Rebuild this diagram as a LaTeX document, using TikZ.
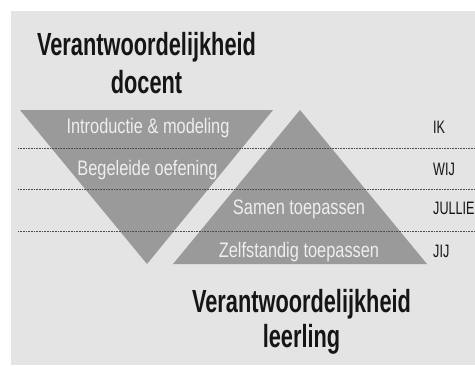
\documentclass[tikz,border=0pt]{standalone}
\usepackage{fontspec}
\newfontfamily\titlefont[FakeStretch=0.68]{Liberation Sans}
\newfontfamily\labfont[FakeStretch=0.78]{Liberation Sans}
\newfontfamily\sidefont[FakeStretch=0.70]{Liberation Sans}
\definecolor{bg}{HTML}{E4E4E4}
\definecolor{tri}{HTML}{9A9A9A}
\definecolor{labtxt}{HTML}{EEEEEE}
\definecolor{dark}{HTML}{151515}
\tikzset{
  title/.style={anchor=base, inner sep=0pt, text=dark, font=\titlefont\bfseries\fontsize{32}{34}\selectfont},
  trilabel/.style={anchor=base, inner sep=0pt, text=labtxt, font=\labfont\fontsize{21}{23}\selectfont},
  sidelabel/.style={anchor=base west, inner sep=0pt, text=dark, font=\sidefont\fontsize{18}{20}\selectfont},
  rowline/.style={draw=black!70, line width=0.6pt, dash pattern=on 0.8pt off 0.8pt},
  tribox/.style={fill=tri, draw=none}
}
\begin{document}
\begin{tikzpicture}[x=1pt, y=-1pt]
\useasboundingbox (0,0) rectangle (475,365);
\fill[white] (0,0) rectangle (475,365);
\fill[bg] (11,11) rectangle (475,365);
% triangles
\fill[tribox] (20,110) coordinate (dtl) -- (273,110) coordinate (dtr) -- (147,264) coordinate (dbot) -- cycle;
\fill[tribox] (300,110) coordinate (ltop) -- (427,264) coordinate (lbr) -- (173,264) coordinate (lbl) -- cycle;
% row lines
\coordinate (r1a) at (18,148); \coordinate (r1b) at (475,148);
\coordinate (r2a) at (18,189); \coordinate (r2b) at (475,189);
\coordinate (r3a) at (18,231); \coordinate (r3b) at (475,231);
\draw[rowline] (r1a) -- (r1b);
\draw[rowline] (r2a) -- (r2b);
\draw[rowline] (r3a) -- (r3b);
% titles
\node[title] (t1) at (146.5,55) {Verantwoordelijkheid};
\node[title] (t2) at (146.5,93) {docent};
\node[title] (b1) at (301.5,312) {Verantwoordelijkheid};
\node[title] (b2) at (301.5,347) {leerling};
% triangle labels
\node[trilabel] (l1) at (148,133) {Introductie \& modeling};
\node[trilabel] (l2) at (147.5,175) {Begeleide oefening};
\node[trilabel] (l3) at (299,214) {Samen toepassen};
\node[trilabel] (l4) at (299,257) {Zelfstandig toepassen};
% side labels
\node[sidelabel] (s1) at (433,133) {IK};
\node[sidelabel] (s2) at (433,175) {WIJ};
\node[sidelabel] (s3) at (433,214) {JULLIE};
\node[sidelabel] (s4) at (433,257) {JIJ};
\end{tikzpicture}
\end{document}
